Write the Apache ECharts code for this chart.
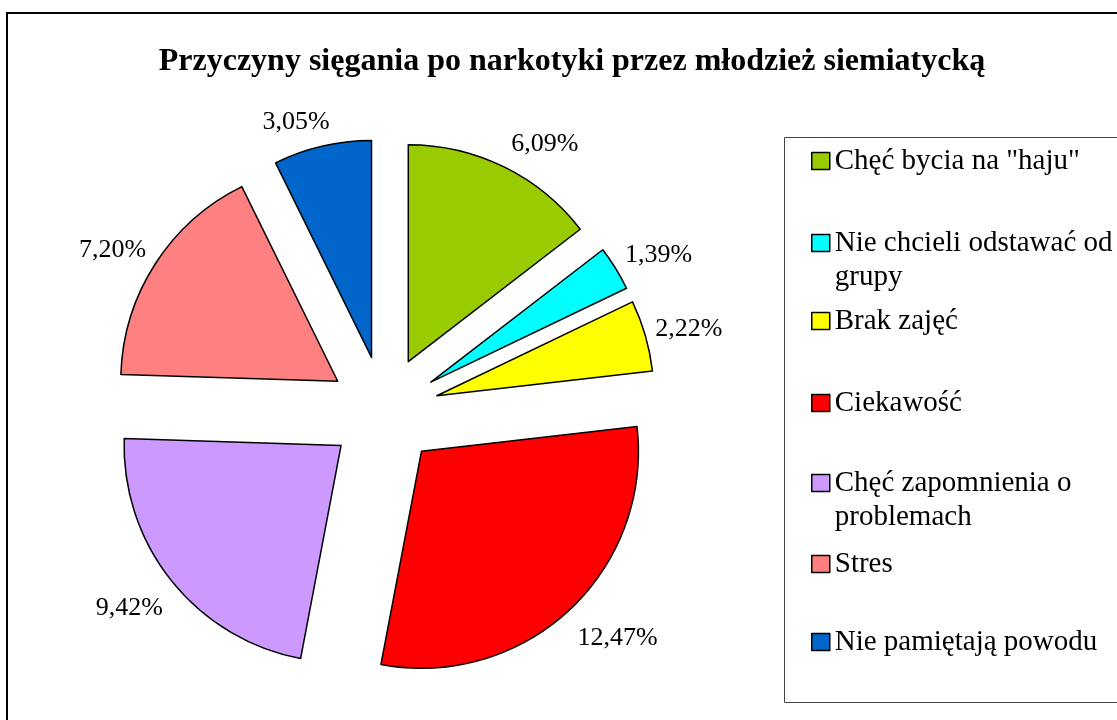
<!DOCTYPE html>
<html>
<head>
<meta charset="utf-8">
<script src="https://cdn.jsdelivr.net/npm/echarts@6/dist/echarts.min.js"></script>
<style>
html,body{margin:0;padding:0;background:#fff;}
#chart{width:1117px;height:720px;}
</style>
</head>
<body>
<div id="chart"></div>
<script>
const titleText = 'Przyczyny sięgania po narkotyki przez młodzież siemiatycką';
const categories = ['Chęć bycia na "haju"', 'Nie chcieli odstawać od grupy', 'Brak zajęć', 'Ciekawość', 'Chęć zapomnienia o problemach', 'Stres', 'Nie pamiętają powodu'];
const legendLabels = ['Chęć bycia na "haju"', 'Nie chcieli odstawać od\ngrupy', 'Brak zajęć', 'Ciekawość', 'Chęć zapomnienia o\nproblemach', 'Stres', 'Nie pamiętają powodu'];
const values = [6.09, 1.39, 2.22, 12.47, 9.42, 7.20, 3.05];
const colors = ['#99CC00', '#00FFFF', '#FFFF00', '#FF0000', '#CC99FF', '#FF8080', '#0066CC'];

// layout (legend icon centre y positions)
const legendCentersY = [161, 243, 321, 403, 483, 564, 642];
const LINE_H = 34;
const FONT = 'Liberation Serif, Times New Roman, serif';

const legends = categories.map((name, i) => {
  const twoLine = legendLabels[i].indexOf('\n') >= 0;
  const h = twoLine ? LINE_H * 3 : LINE_H;
  return {
    data: [{ name: name }],
    orient: 'vertical',
    left: 811,
    top: legendCentersY[i] - h / 2,
    padding: 0,
    icon: 'rect',
    itemWidth: 18,
    itemHeight: 17,
    selectedMode: false,
    itemStyle: { borderColor: '#000', borderWidth: 1.5 },
    formatter: () => (twoLine ? '\n' : '') + legendLabels[i],
    textStyle: {
      fontFamily: FONT,
      fontSize: 29,
      color: '#000',
      lineHeight: LINE_H
    }
  };
});

// mid angles (clockwise from 12 o'clock) used for label nudging
const total = values.reduce((a, b) => a + b, 0);
let acc = 0;
const midAngles = values.map(v => { const m = (acc + v / 2) / total * 2 * Math.PI; acc += v; return m; });

const chart = echarts.init(document.getElementById('chart'));
chart.setOption({
  animation: false,
  backgroundColor: '#fff',
  title: {
    text: titleText,
    left: 572,
    top: 46,
    padding: 0,
    textAlign: 'center',
    textStyle: { fontFamily: FONT, fontSize: 32, fontWeight: 'bold', color: '#000' }
  },
  legend: legends,
  graphic: [
    { type: 'rect', shape: { x: 7, y: 13, width: 1130, height: 730 }, style: { fill: 'none', stroke: '#000', lineWidth: 2 }, silent: true },
    { type: 'rect', shape: { x: 784.5, y: 137.5, width: 360, height: 565 }, style: { fill: 'none', stroke: '#444', lineWidth: 1 }, silent: true }
  ],
  series: [{
    type: 'pie',
    center: [384, 411],
    radius: 217,
    startAngle: 90,
    clockwise: true,
    selectedMode: 'multiple',
    selectedOffset: 55,
    avoidLabelOverlap: false,
    emphasis: { disabled: true },
    itemStyle: { borderColor: '#000', borderWidth: 1.5 },
    label: {
      show: true,
      position: 'outside',
      fontFamily: FONT,
      fontSize: 26,
      color: '#000',
      formatter: p => p.value.toFixed(2).replace('.', ',') + '%'
    },
    labelLine: { show: false, length: 5, length2: 0 },
    labelLayout: params => {
      const a = midAngles[params.dataIndex];
      const c = Math.cos(a), s = Math.sin(a);
      return { dy: c > 0 ? -20 * c : 24, dx: Math.abs(s) < 0.3 ? -s * 60 : 0 };
    },
    data: categories.map((name, i) => ({
      name: name,
      value: values[i],
      selected: true,
      itemStyle: { color: colors[i] }
    }))
  }]
});
</script>
</body>
</html>
